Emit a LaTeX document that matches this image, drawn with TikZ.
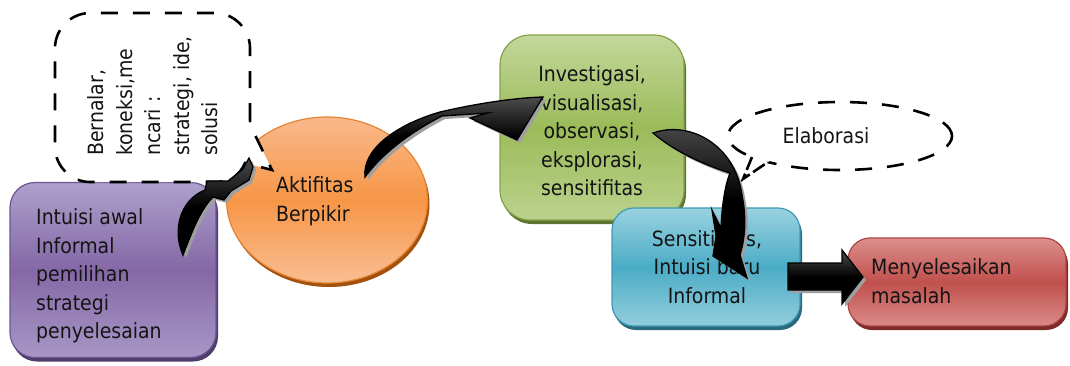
\documentclass[tikz,border=0pt]{standalone}
\usepackage{fontspec}
\setmainfont{DejaVu Sans Condensed}
\usetikzlibrary{shapes.geometric,shadows}
\definecolor{pTop}{HTML}{ADA0CB}\definecolor{pMid}{HTML}{8468A6}\definecolor{pBot}{HTML}{A897C6}\definecolor{pSh}{HTML}{4F3D6B}\definecolor{pBd}{HTML}{6D5590}
\definecolor{oTop}{HTML}{F9B98C}\definecolor{oMid}{HTML}{F79646}\definecolor{oBot}{HTML}{F9BE93}\definecolor{oSh}{HTML}{A3520E}\definecolor{oBd}{HTML}{E58534}
\definecolor{gTop}{HTML}{C3D79B}\definecolor{gMid}{HTML}{9BBB59}\definecolor{gBot}{HTML}{BBD28D}\definecolor{gSh}{HTML}{5E7530}\definecolor{gBd}{HTML}{86A34A}
\definecolor{bTop}{HTML}{9AD2E0}\definecolor{bMid}{HTML}{4BACC6}\definecolor{bBot}{HTML}{93CEDD}\definecolor{bSh}{HTML}{2B6A7C}\definecolor{bBd}{HTML}{3C9AB3}
\definecolor{rTop}{HTML}{DC8F8D}\definecolor{rMid}{HTML}{C0504D}\definecolor{rBot}{HTML}{D98B89}\definecolor{rSh}{HTML}{7D2C2A}\definecolor{rBd}{HTML}{AD4542}
\newcommand\blockarrow[1]{\fill[gray!75, shift={(3,3)}] #1; \draw[arrowfill] #1;}
\begin{document}
\begin{tikzpicture}[x=1pt,y=-1pt,
  txt/.style={font=\fontsize{21}{28.5}\selectfont, text=black!92, inner sep=0pt},
  colbox/.style n args={5}{rectangle, inner sep=0pt, line width=1.2pt,
     top color=#1, bottom color=#3, middle color=#2, draw=#5,
     drop shadow={shadow xshift=2pt, shadow yshift=-4pt, fill=#4, opacity=1}},
  dashline/.style={line width=2.6pt, dash pattern=on 17pt off 15pt, draw=black},
  arrowfill/.style={draw=black, line width=1.3pt, top color=black!70, bottom color=black, middle color=black, line join=miter},
]
\useasboundingbox (0,0) rectangle (1070,365);
% purple box
\node[colbox={pTop}{pMid}{pBot}{pSh}{pBd}, rounded corners=25pt, minimum width=206pt, minimum height=175pt] (intuisi) at (113,270) {};
% orange ellipse
\node[colbox={oTop}{oMid}{oBot}{oSh}{oBd}, ellipse, minimum width=201pt, minimum height=166pt] (aktif) at (327,200) {};
% dashed callout
\filldraw[dashline, fill=white] (250,120) -- (250,48) .. controls (250,29) and (234,13) .. (215,13) -- (90,13) .. controls (71,13) and (55,29) .. (55,48) -- (55,147) .. controls (55,166) and (71,182) .. (90,182) -- (215,182) .. controls (230,182) and (240,175) .. (245,163) -- (272,170) -- (256,137) .. controls (252,131) and (250,126) .. (250,120) -- cycle;
% green box
\node[colbox={gTop}{gMid}{gBot}{gSh}{gBd}, rounded corners=30pt, minimum width=184pt, minimum height=185pt] (invest) at (592,127.5) {};
% blue box
\node[colbox={bTop}{bMid}{bBot}{bSh}{bBd}, rounded corners=22pt, minimum width=188pt, minimum height=118pt] (sensit) at (706,267) {};
% red box
\node[colbox={rTop}{rMid}{rBot}{rSh}{rBd}, rounded corners=22pt, minimum width=218pt, minimum height=88pt] (selesai) at (957,282) {};
% Elaborasi callout
\node[ellipse, dashline, minimum width=224pt, minimum height=68pt, inner sep=0pt] (elabshape) at (840,136) {};
\fill[white] (749,154) -- (743,179) -- (771,160) -- cycle;
\draw[dashline, dash pattern=on 14pt off 4pt] (752,157) -- (743,179) -- (768,162);
% texts
\node[txt, anchor=west, align=left] (tintuisi) at (36,276) {Intuisi awal\\Informal\\pemilihan\\strategi\\penyelesaian};
\node[txt, rotate=90, anchor=west, align=left] (tbernalar) at (153,156) {Bernalar,\\koneksi,me\\ncari :\\strategi, ide,\\solusi};
\node[txt, anchor=west, align=left] (taktif) at (276,201) {Aktifitas\\Berpikir};
\node[txt, align=center] (tinvest) at (592,131) {Investigasi,\\visualisasi,\\observasi,\\eksplorasi,\\sensitifitas};
\node[txt, align=center] (tsensit) at (707,267) {Sensitifitas,\\Intuisi baru\\Informal};
\node[txt, anchor=west, align=left] (tselesai) at (871,281) {Menyelesaikan\\masalah};
\node[txt] (telab) at (826,136) {Elaborasi};
% curved block arrows
\blockarrow{(183,255) .. controls (172,230) and (180,200) .. (205,190) -- (207,181) -- (228,181) -- (243,169) -- (249,158) -- (253,167) -- (249,180) -- (231,191) -- (224,200) -- (213,197) .. controls (200,210) and (192,232) .. (183,255) -- cycle}
\blockarrow{(365,177) .. controls (362,150) and (395,125) .. (440,112) .. controls (470,105) and (510,98) .. (543,97) -- (517,140) -- (470,118) -- (488,113) -- (442,116) .. controls (415,130) and (385,150) .. (365,177) -- cycle}
\blockarrow{(653,133) .. controls (690,120) and (735,145) .. (742,195) .. controls (746,215) and (746,235) .. (740,255) -- (747,278) -- (713,256) -- (716,236) -- (712,210) -- (721,228) .. controls (722,205) and (725,185) .. (730,173) .. controls (705,165) and (675,152) .. (653,133) -- cycle}
\blockarrow{(788,263) -- (842,263) -- (842,250) -- (863,277) -- (842,304) -- (842,290) -- (788,290) -- cycle}
\end{tikzpicture}
\end{document}
